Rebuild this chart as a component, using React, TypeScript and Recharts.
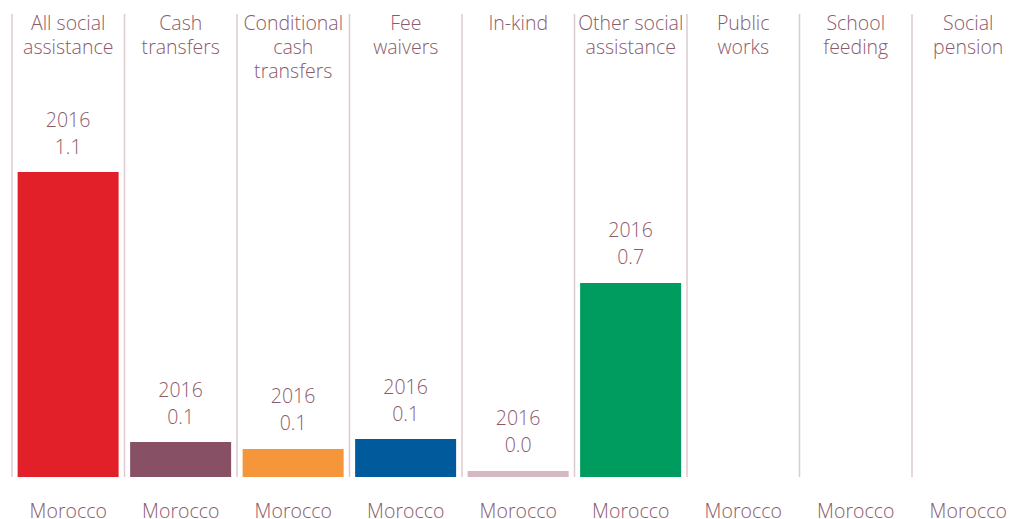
import React from "react";
import { BarChart, Bar, XAxis, YAxis, Cell, LabelList } from "recharts";

const categories = [
  "All social assistance",
  "Cash transfers",
  "Conditional cash transfers",
  "Fee waivers",
  "In-kind",
  "Other social assistance",
  "Public works",
  "School feeding",
  "Social pension",
];
const titleLines = [
  ["All social", "assistance"],
  ["Cash", "transfers"],
  ["Conditional", "cash", "transfers"],
  ["Fee", "waivers"],
  ["In-kind"],
  ["Other social", "assistance"],
  ["Public", "works"],
  ["School", "feeding"],
  ["Social", "pension"],
];
const country = "Morocco";
const year = "2016";
const values: (number | null)[] = [1.1, 0.126, 0.101, 0.137, 0.022, 0.7, null, null, null];
const colors = ["#E1202A", "#875064", "#F5963A", "#005A9C", "#D4BAC0", "#009B5F", "#999", "#999", "#999"];

const data = categories.map((c, i) => ({ name: c, value: values[i] }));

const TEXT = "#8B5A6B";
const FONT = "'Open Sans', sans-serif";
const FS = 19.5;
const FW = 300;
const SEP = "#DCCBD0";

const BottomTick = (props: any) => {
  const { x, payload } = props;
  const half = payload.offset || 56.25;
  const left = payload.coordinate - half;
  const lines = titleLines[payload.index] || [];
  return (
    <g>
      <line x1={left} x2={left} y1={14} y2={477} stroke={SEP} strokeWidth={1.5} />
      {lines.map((l, i) => (
        <text key={i} x={x} y={22 + i * 24} textAnchor="middle" dominantBaseline="central"
          fill={TEXT} fontFamily={FONT} fontSize={FS} fontWeight={FW}>{l}</text>
      ))}
      <text x={x} y={510} textAnchor="middle" dominantBaseline="central"
        fill={TEXT} fontFamily={FONT} fontSize={FS} fontWeight={FW}>{country}</text>
    </g>
  );
};

const ValueLabel = (props: any) => {
  const { x, y, width, value } = props;
  if (value === null || value === undefined) return null;
  const cx = x + width / 2;
  return (
    <g>
      <text x={cx} y={y - 53} textAnchor="middle" dominantBaseline="central"
        fill={TEXT} fontFamily={FONT} fontSize={FS} fontWeight={FW}>{year}</text>
      <text x={cx} y={y - 26} textAnchor="middle" dominantBaseline="central"
        fill={TEXT} fontFamily={FONT} fontSize={FS} fontWeight={FW}>{Number(value).toFixed(1)}</text>
    </g>
  );
};

export default function App() {
  return (
    <div style={{ position: "absolute", left: 0, top: 0, width: 1016, height: 519, overflow: "hidden", background: "#fff" }}>
      <style>{"body{margin:0;overflow:hidden}"}</style>
      <BarChart width={1030} height={519} data={data}
        margin={{ top: 14, right: 5.5, bottom: 0, left: 12 }} barCategoryGap="5%">
        <YAxis hide domain={[0, 1.67]} />
        <XAxis dataKey="name" height={42} axisLine={false} tickLine={false}
          tick={<BottomTick />} interval={0} />
        <Bar dataKey="value" isAnimationActive={false}>
          {data.map((d, i) => (
            <Cell key={i} fill={colors[i]} />
          ))}
          <LabelList dataKey="value" content={<ValueLabel />} />
        </Bar>
      </BarChart>
    </div>
  );
}
